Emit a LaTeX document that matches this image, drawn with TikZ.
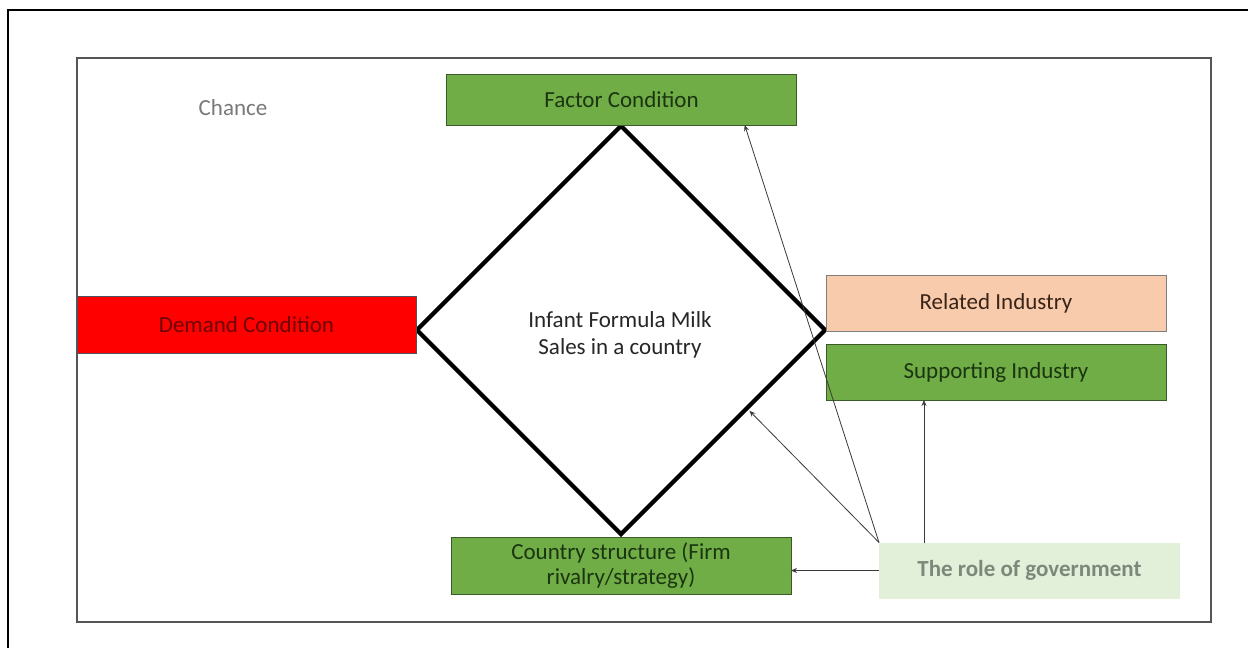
\documentclass[tikz,border=0pt]{standalone}
\usepackage{fontspec}
\setmainfont{Carlito}
\usetikzlibrary{arrows.meta,shapes.geometric,calc}

\definecolor{leafgreen}{HTML}{70AD47}
\definecolor{leafedge}{HTML}{3B5A2A}
\definecolor{leaftext}{HTML}{1A3510}
\definecolor{hotred}{HTML}{FF0000}
\definecolor{rededge}{HTML}{50505E}
\definecolor{redtext}{HTML}{6E0505}
\definecolor{peach}{HTML}{F8CBAD}
\definecolor{peachedge}{HTML}{7F7F7F}
\definecolor{peachtext}{HTML}{3A2416}
\definecolor{palegreen}{HTML}{E2F0D9}
\definecolor{govtext}{HTML}{7C887A}
\definecolor{framegray}{HTML}{555555}
\definecolor{arrowgray}{HTML}{3A3A3A}

\begin{document}
\begin{tikzpicture}[x=1pt,y=-1pt,
  txt/.style={font=\fontsize{23}{27}\selectfont},
  box/.style={txt, rectangle, inner sep=0pt, outer sep=0pt, line width=0.9pt, align=center},
  greenbox/.style={box, fill=leafgreen, draw=leafedge, text=leaftext},
  redbox/.style={box, fill=hotred, draw=rededge, text=redtext},
  peachbox/.style={box, fill=peach, draw=peachedge, text=peachtext},
  govbox/.style={box, fill=palegreen, draw=none, text=govtext, font=\fontsize{23}{27}\selectfont\bfseries},
  arr/.style={draw=arrowgray, line width=0.8pt, -{Stealth[length=6pt,width=5pt]}}
]
\useasboundingbox (0,0) rectangle (1248,648);
\fill[white] (0,0) rectangle (1248,648);

% outer page border (only left and top edges fall inside the page)
\draw[line width=2.4pt] (8,660) -- (8,10) -- (1260,10);

% inner frame
\node[draw=framegray, line width=1.4pt, inner sep=0pt, minimum width=1134pt, minimum height=564pt] (frame) at (644,340) {};

% label in the frame corner
\node[txt, text=gray!95!black] (chance) at (233,108) {Chance};

% the diamond and its caption
\node[diamond, draw=black, line width=4.3pt, inner sep=0pt, minimum width=410pt, minimum height=410pt, aspect=1] (hub) at (621,330) {};
\node[txt, text=black!85, align=center] (hubtext) at (620,335) {Infant Formula Milk\\Sales in a country};

% the four determinants
\node[greenbox, minimum width=350pt, minimum height=51pt] (factor) at (621.5,99.5) {Factor Condition};
\node[redbox, minimum width=339pt, minimum height=57pt] (demand) at (246.5,325) {Demand Condition};
\node[peachbox, minimum width=340pt, minimum height=56pt] (related) at (996,303) {Related Industry};
\node[greenbox, minimum width=340pt, minimum height=56pt] (support) at (996,372) {Supporting Industry};
\node[greenbox, minimum width=340pt, minimum height=57pt, font=\fontsize{23}{25}\selectfont] (country) at (621,565.5) {Country structure (Firm\\rivalry/strategy)};

% government
\node[govbox, minimum width=301pt, minimum height=56pt] (gov) at (1029.5,570.5) {The role of government};

% influence of government
\draw[arr] (gov.north west) -- ($(factor.south west)!0.852!(factor.south east)$);
\draw[arr, shorten >=1.5pt] (gov.north west) -- ($(hub.east)!0.385!(hub.south)$);
\draw[arr] ([xshift=45pt]gov.north west) -- ([xshift=45pt]gov.north west |- support.south);
\draw[arr] (gov.west) -- (gov.west -| country.east);
\end{tikzpicture}
\end{document}
